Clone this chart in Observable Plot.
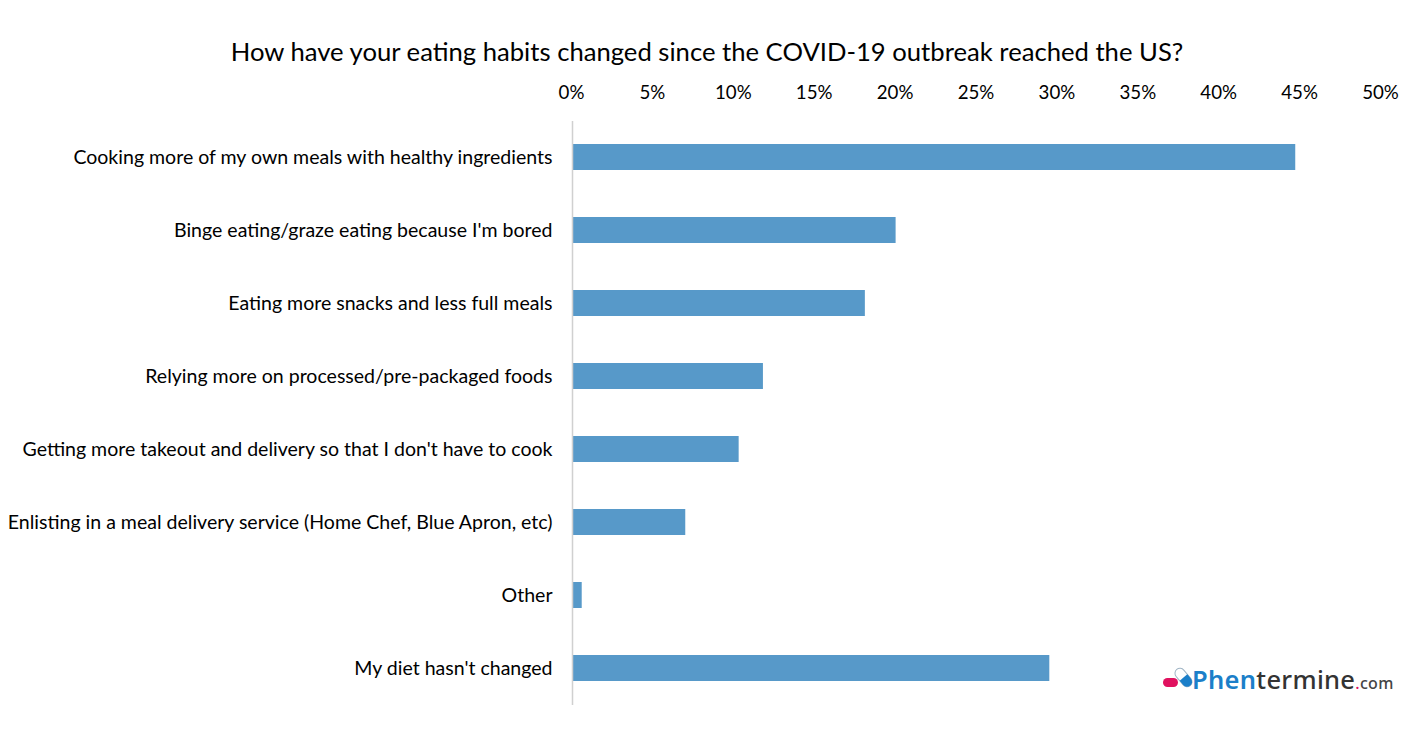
<!DOCTYPE html>
<html><head><meta charset="utf-8">
<script src="https://cdn.jsdelivr.net/npm/d3@7"></script>
<script src="https://cdn.jsdelivr.net/npm/@observablehq/plot@0.6"></script>
<style>html,body{margin:0;padding:0;background:#fff}#c{position:relative;width:1414px;height:740px;overflow:hidden}
#t{position:absolute;left:0;top:36px;width:1414px;text-align:center;font:25.65px Lato,sans-serif;color:#000;white-space:nowrap}
#l{position:absolute;left:1192px;top:662px;font:500 25.5px "Noto Sans",sans-serif;color:#333;white-space:nowrap;letter-spacing:.3px}
#l b{font-weight:600;color:#1b7fc9}#l i{font-style:normal;color:#e0115f;font-size:16px}#l span{font-size:16px;color:#444}
#i{position:absolute;left:1163px;top:666px}</style></head><body>
<div id="c"><div id="t">How have your eating habits changed since the COVID-19 outbreak reached the US?</div>
<div id="p" style="position:absolute;left:0;top:70px"></div>
<svg id="i" width="32" height="24" viewBox="0 0 32 24"><rect x="0" y="12" width="15" height="9" rx="4.5" fill="#e0115f"/><g transform="rotate(50 20.5 11.5)"><rect x="10" y="6.5" width="21" height="10" rx="5" fill="#fff" stroke="#9fb4c4" stroke-width="1"/><path d="M20.5 6.5h5.5a5 5 0 0 1 0 10h-5.5z" fill="#1b7fc9"/></g></svg>
<div id="l"><b>Phen</b>termine<i>.</i><span>com</span></div></div>
<script>
const categories=["Cooking more of my own meals with healthy ingredients","Binge eating/graze eating because I'm bored","Eating more snacks and less full meals","Relying more on processed/pre-packaged foods","Getting more takeout and delivery so that I don't have to cook","Enlisting in a meal delivery service (Home Chef, Blue Apron, etc)","Other","My diet hasn't changed"];
const values=[44.7,20,18.1,11.8,10.3,7,0.6,29.5];
const ticks=[0,5,10,15,20,25,30,35,40,45,50];
const rows=categories.map((c,i)=>({c,v:values[i]}));
const chart=Plot.plot({width:1414,height:640,marginLeft:572,marginRight:33,marginTop:51,marginBottom:5,
style:{fontFamily:'Lato,sans-serif',color:"#000",background:"transparent"},
x:{domain:[0,50],label:null},
y:{domain:categories,label:null,paddingInner:0.644,paddingOuter:0.322},
marks:[
Plot.axisX({anchor:"top",ticks,tickFormat:d=>d+"%",tickSize:0,tickPadding:23,fontSize:18.7,dx:-1,label:null}),
Plot.axisY({tickSize:0,tickPadding:20,fontSize:19.55,dy:-1,label:null}),
Plot.barX(rows,{x:"v",y:"c",fill:"#5799C9",dy:-1}),
Plot.ruleX([0],{stroke:"#d0d0d0",strokeWidth:1.5})]});
document.getElementById("p").appendChild(chart);
</script></body></html>
